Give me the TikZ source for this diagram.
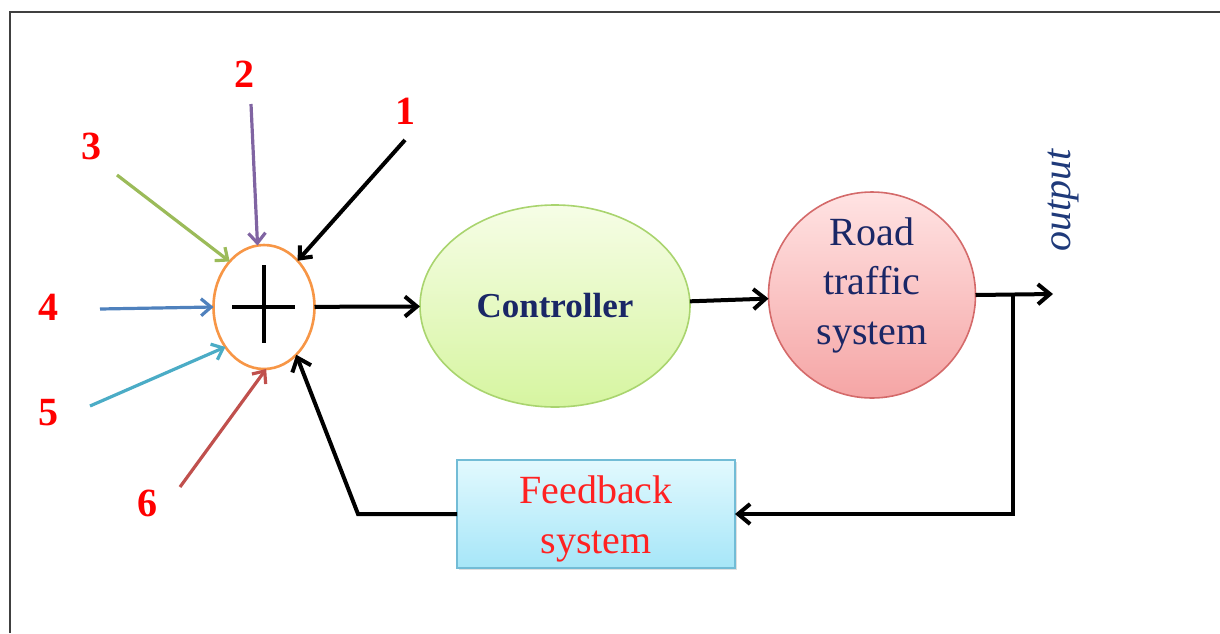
\documentclass[tikz,border=0pt]{standalone}
\usepackage{fontspec}
\setmainfont{Liberation Serif}
\usetikzlibrary{arrows.meta,shapes.geometric,calc,shadows}
\definecolor{frameGray}{HTML}{404040}
\definecolor{sumOrange}{HTML}{F79646}
\definecolor{inPurple}{HTML}{8064A2}
\definecolor{inGreen}{HTML}{9BBB59}
\definecolor{inBlue}{HTML}{4F81BD}
\definecolor{inCyan}{HTML}{4BACC6}
\definecolor{inRed}{HTML}{C0504D}
\definecolor{ctrlTop}{HTML}{F6FDE6}
\definecolor{ctrlBot}{HTML}{D6F5A0}
\definecolor{ctrlLine}{HTML}{A9D46E}
\definecolor{roadTop}{HTML}{FFE3E3}
\definecolor{roadBot}{HTML}{F5A5A5}
\definecolor{roadLine}{HTML}{D46A6A}
\definecolor{fbTop}{HTML}{E2F9FE}
\definecolor{fbBot}{HTML}{A6E6F8}
\definecolor{fbLine}{HTML}{72BCD6}
\definecolor{navyText}{HTML}{1A2766}
\definecolor{outText}{HTML}{1F3A7A}
\definecolor{numRed}{HTML}{FF0000}
\definecolor{fbRed}{HTML}{FF2222}
\begin{document}
\begin{tikzpicture}[x=0.5pt,y=-0.5pt,
  bigtext/.style={font=\fontsize{20}{24.75}\selectfont},
  numlabel/.style={text=numRed,font=\fontsize{20}{24}\selectfont\bfseries,inner sep=0pt},
  conn/.style={line width=2pt,draw=black},
  arr/.style={conn,-{Straight Barb[length=6pt,width=10pt]}},
  inarr/.style={line width=1.6pt,-{Straight Barb[length=5pt,width=8.5pt]}},
  sumnode/.style={ellipse,draw=sumOrange,line width=1.3pt,minimum width=50.5pt,minimum height=62pt,inner sep=0pt,outer sep=0pt,fill=white},
  ctrlnode/.style={ellipse,draw=ctrlLine,line width=0.8pt,top color=ctrlTop,bottom color=ctrlBot,minimum width=135pt,minimum height=101pt,inner sep=0pt,outer sep=0pt,text=navyText,font=\fontsize{17.5}{21}\selectfont\bfseries},
  roadnode/.style={ellipse,draw=roadLine,line width=0.8pt,top color=roadTop,bottom color=roadBot,minimum width=103.5pt,minimum height=103pt,inner sep=0pt,outer sep=0pt},
  roadtext/.style={text=navyText,align=center,bigtext,inner sep=0pt},
  fbnode/.style={rectangle,draw=fbLine,line width=0.8pt,top color=fbTop,bottom color=fbBot,minimum width=139pt,minimum height=54pt,inner sep=0pt,outer sep=0pt,drop shadow={opacity=0.25,shadow xshift=0.8pt,shadow yshift=-0.8pt}},
  fbtext/.style={text=fbRed,align=center,bigtext,inner sep=0pt}
]
\useasboundingbox (0,0) rectangle (1220,633);
% frame
\draw[frameGray,line width=1.1pt] (10,633) -- (10,12) -- (1220,12);

% main blocks
\node[sumnode] (sum) at (264,307) {};
\node[ctrlnode] (ctrl) at (555,306) {Controller};
\node[roadnode,label={[roadtext,yshift=5pt]center:Road\\traffic\\system}] (road) at (872,295) {};
\node[fbnode,label={[fbtext,yshift=-2.5pt]center:Feedback\\system}] (fb) at (596,514) {};

% plus sign
\draw[line width=1.7pt] ($(sum)+(-32,0)$) -- ($(sum)+(31,0)$);
\draw[line width=1.7pt] ($(sum)+(0,-42)$) -- ($(sum)+(0,36)$);

% input labels
\node[numlabel] (n1) at (405,111) {1};
\node[numlabel] (n2) at (244,74) {2};
\node[numlabel] (n3) at (91,146) {3};
\node[numlabel] (n4) at (48,307) {4};
\node[numlabel] (n5) at (48,413) {5};
\node[numlabel] (n6) at (147,503) {6};

% input arrow start points
\coordinate (s1) at (405,140);
\coordinate (s2) at (251,104);
\coordinate (s3) at (117,175);
\coordinate (s4) at (100,309);
\coordinate (s5) at (90,406);
\coordinate (s6) at (180,487);

\draw[inarr,black,line width=2pt] (s1) -- (sum.54);
\draw[inarr,inPurple] (s2) -- (sum.96);
\draw[inarr,inGreen] (s3) -- (sum.127);
\draw[inarr,inBlue] (s4) -- (sum.180);
\draw[inarr,inCyan] (s5) -- (sum.226);
\draw[inarr,inRed] (s6) -- (sum.272);

% forward path
\draw[arr] (sum) -- (ctrl);
\draw[arr] (ctrl) -- (road);
\coordinate (out) at (1053,294);
\coordinate (br) at (1013,294);
\draw[arr] (road.east) -- (out);
\node[text=outText,font=\fontsize{20}{24}\selectfont\itshape,rotate=90,inner sep=0pt] (outlbl) at (1063,200) {output};

% feedback path
\draw[arr] (br) |- (fb.east);
\coordinate (fbc) at (358,514);
\draw[arr] (fb.west) -- (fbc) -- (sum.304);
\end{tikzpicture}
\end{document}
